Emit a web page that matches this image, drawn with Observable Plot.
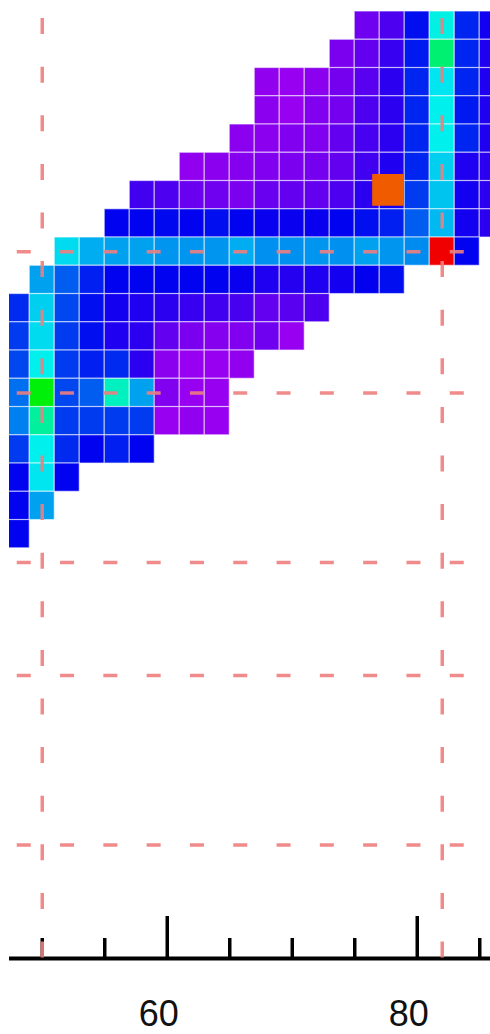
<!DOCTYPE html>
<html>
<head>
<meta charset="utf-8">
<script src="https://cdn.jsdelivr.net/npm/d3@7"></script>
<script src="https://cdn.jsdelivr.net/npm/@observablehq/plot@0.6"></script>
<style>
  html, body { margin: 0; padding: 0; background: #fff; }
  #chart svg { display: block; }
</style>
</head>
<body>
<div id="chart"></div>
<script>
// ---- data -------------------------------------------------------------
// Each row (top to bottom) starts at a column centre; cells are 2 units wide.
const rowFirstColumn = [76, 74, 68, 68, 66, 62, 58, 56, 52, 50, 48, 48, 48, 48, 48, 48, 48, 48, 48];
const columnStep = 2;
// Cell values on a 0..100 scale (purple low -> blue -> cyan -> green -> orange -> red high)
const rowValues = [
  [6, 9, 17, 38, 19, 14],
  [5, 7, 11, 18, 48, 19, 13],
  [3, 2.5, 3.5, 5.5, 8, 12, 19, 36, 19, 13],
  [3.5, 2.5, 4.5, 5.5, 9, 12, 19, 37, 18, 13],
  [3.5, 3.5, 4.5, 4.5, 7, 9.5, 12, 19, 37, 19, 13],
  [3, 3.5, 4, 4.5, 5, 5.5, 7, 10, 13, 19, 34, 13, 12],
  [10, 9, 6.5, 6, 5, 6.5, 7, 7, 9, 12, 14, 21, 33, 14, 12],
  [16, 16, 16.5, 16, 17, 16, 15, 15, 15, 16, 17, 18.5, 24, 32, 14, 12],
  [35, 31, 30, 30, 29, 29, 29, 31, 28.5, 28.5, 29, 28.5, 30, 29, 28, 100, 16],
  [30, 24, 18.5, 16, 16, 16, 16, 16, 15, 13, 12.5, 13, 14, 15.5, 17],
  [19.5, 34, 22, 17, 14, 13, 12, 11, 10, 9.5, 7, 8, 9],
  [21, 35, 21, 17, 13, 12, 7, 5, 4, 4.5, 6, 2.5],
  [22, 37, 21, 18.5, 19.5, 12, 3.5, 2.5, 2.5, 3],
  [25.5, 57, 22, 24, 41, 30, 4.5, 2.5, 2.5],
  [27, 44, 21, 21, 21, 21, 2.5, 3, 2.5],
  [21, 37, 19.5, 16, 18.5, 16],
  [16, 36, 16],
  [16, 30],
  [16]
];
// Highlighted point (orange square)
const highlightX = [77.66];
const highlightY = [6.31];
const highlightValue = [92];
// Dashed reference lines
const referenceX = [50, 82];
const referenceXSpan = [0.25, 33.52];
const referenceY = [8.5, 13.5, 19.5, 23.5, 29.5];
const referenceYSpan = [48, 84];
// Axis ticks
const majorTicks = [60, 80];
const minorTicks = [50, 55, 65, 70, 75, 85];

// ---- build ------------------------------------------------------------
const cells = rowValues.flatMap((vals, r) =>
  vals.map((v, k) => ({x: rowFirstColumn[r] + columnStep * k, row: r, value: v}))
);
const highlight = highlightX.map((x, i) => ({x, y: highlightY[i], value: highlightValue[i]}));
const yDomain = [-0.39, 33.52];
const dashColor = "#ee7e7e";

const chart = Plot.plot({
  width: 490,
  height: 1034,
  marginLeft: 9,
  marginRight: 0,
  marginTop: 0,
  marginBottom: 76,
  x: {domain: [47.38, 85.86], axis: null},
  y: {domain: yDomain, range: [0, 958], axis: null},
  color: {
    type: "linear",
    domain: [0, 100],
    interpolate: (t) => d3.hsl(285 - 285 * t, 1, 0.47).formatHex()
  },
  marks: [
    Plot.rect(cells, {
      x1: (d) => d.x - 1,
      x2: (d) => d.x + 1,
      y1: (d) => d.row,
      y2: (d) => d.row + 1,
      fill: "value",
      stroke: "#ffffff",
      strokeOpacity: 0.55,
      strokeWidth: 1.2,
      clip: true
    }),
    Plot.dot(highlight, {
      x: "x",
      y: "y",
      fill: "value",
      symbol: "square",
      r: 17.9
    }),
    Plot.ruleY([yDomain[1]], {stroke: "#000", strokeWidth: 4}),
    Plot.ruleX(majorTicks, {x: (d) => d, insetTop: 916, stroke: "#000", strokeWidth: 3.5}),
    Plot.ruleX(minorTicks, {x: (d) => d, insetTop: 938, stroke: "#000", strokeWidth: 3.5}),
    Plot.ruleX(referenceX, {
      x: (d) => d,
      y1: () => referenceXSpan[0],
      y2: () => referenceXSpan[1],
      stroke: dashColor,
      strokeOpacity: 0.9,
      strokeWidth: 3.5,
      strokeDasharray: "16,32.6"
    }),
    Plot.ruleY(referenceY, {
      y: (d) => d,
      x1: () => referenceYSpan[0],
      x2: () => referenceYSpan[1],
      stroke: dashColor,
      strokeOpacity: 0.9,
      strokeWidth: 3.5,
      strokeDasharray: "14,29.3"
    }),
    Plot.text(majorTicks, {
      x: (d) => d,
      text: (d) => String(d),
      frameAnchor: "bottom",
      lineAnchor: "bottom",
      dy: 67,
      dx: -8.5,
      fontSize: 36,
      fill: "#111",
      fontFamily: "Liberation Sans, Arial, sans-serif"
    })
  ]
});
document.getElementById("chart").appendChild(chart);
</script>
</body>
</html>
